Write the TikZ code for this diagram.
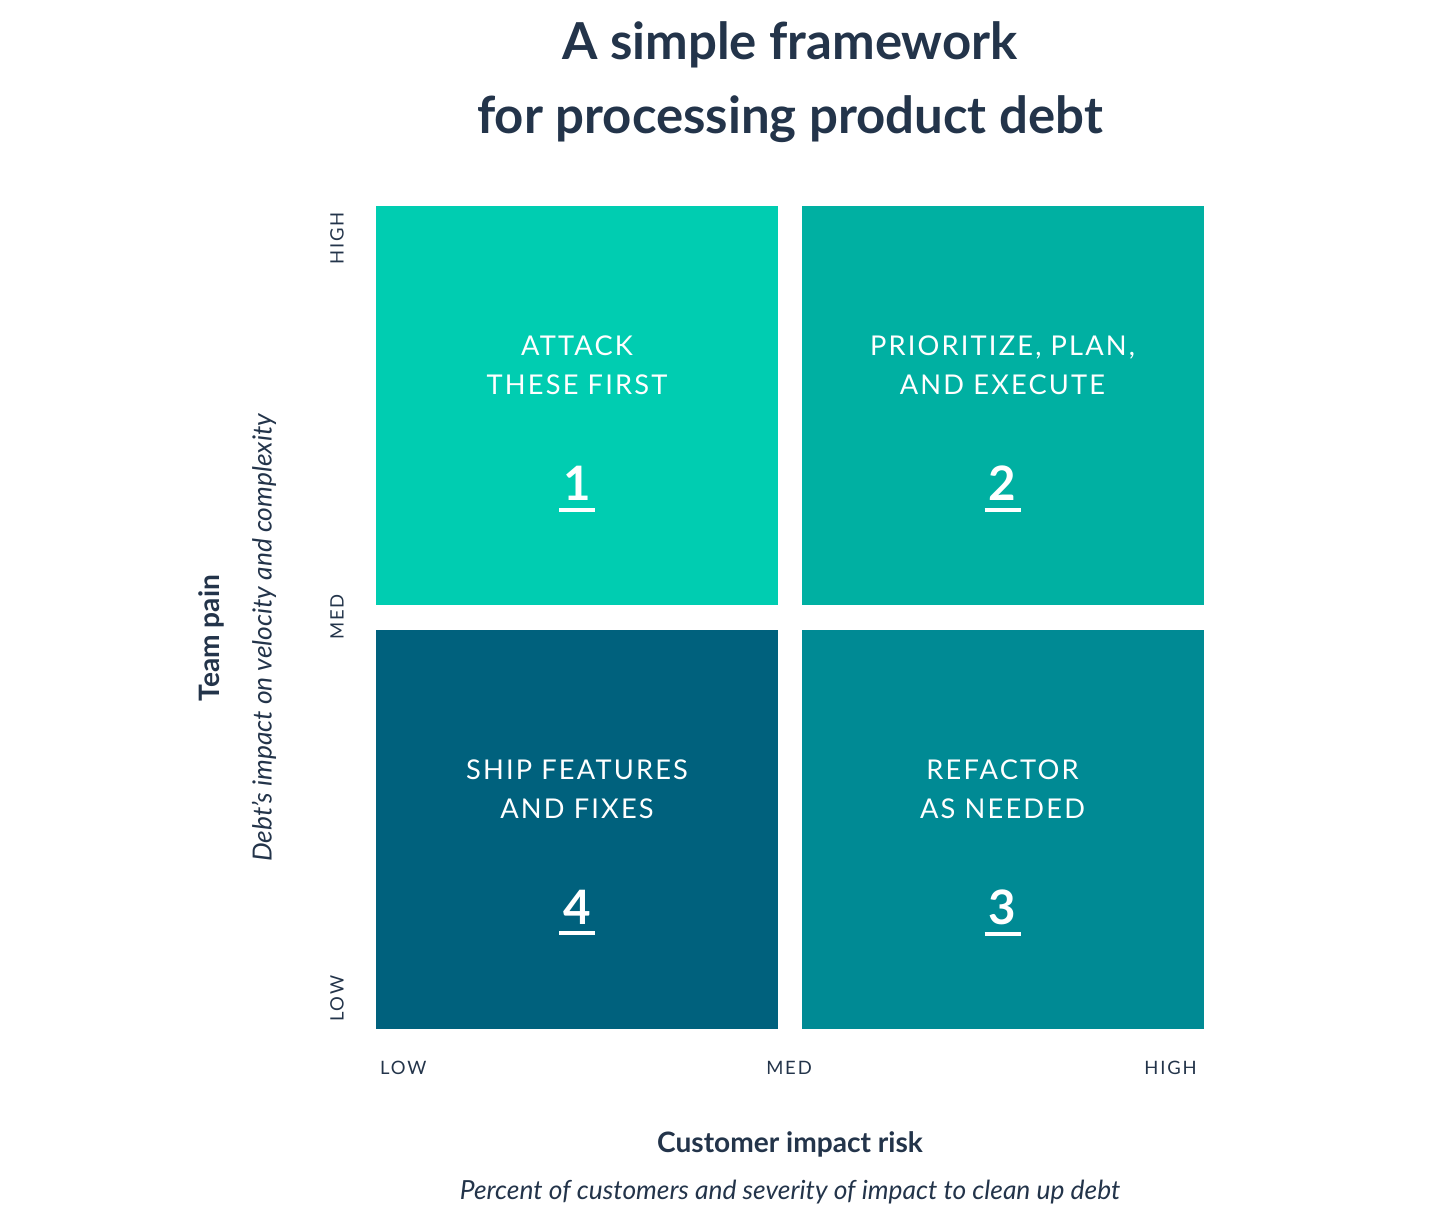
\documentclass[tikz,border=0pt]{standalone}
\usepackage{fontspec}
\setmainfont{Lato}
\usetikzlibrary{positioning}
\definecolor{quad_one}{HTML}{00CDB1}
\definecolor{quad_two}{HTML}{00B0A2}
\definecolor{quad_three}{HTML}{008A94}
\definecolor{quad_four}{HTML}{00617D}
\definecolor{ink}{HTML}{23344A}
\tikzset{
    quad/.style={rectangle, inner sep=0pt, minimum width=402\px, minimum height=399\px},
    num/.style={text=white, font=\fontsize{27}{30}\selectfont\bfseries},
    qlabel/.style={text=white, align=center, font=\fontsize{15.5}{22}\selectfont\addfontfeature{LetterSpace=8}},
    tick/.style={text=ink, font=\fontsize{10.5}{12}\selectfont\addfontfeature{LetterSpace=10}},
    axis/.style={text=ink, font=\fontsize{16}{18}\selectfont\bfseries},
    axissub/.style={text=ink, font=\fontsize{15}{18}\selectfont\itshape}
}
\newlength{\px}\setlength{\px}{0.02cm}
\begin{document}
\begin{tikzpicture}[x=0.02cm, y=-0.02cm]
        \useasboundingbox (0,0) rectangle (1440,1225);
        \node (Title) [text=ink, align=center, font=\fontsize{29}{42.5}\selectfont\bfseries] at (790, 82) {A simple framework\\for processing product debt};

        % Quadrants
        \node (Q_one) [quad, fill=quad_one] at (577, 405.5) {};
        \node (Q_two) [quad, fill=quad_two] at (1002.5, 405.5) {};
        \node (Q_four) [quad, fill=quad_four] at (577, 829) {};
        \node (Q_three) [quad, fill=quad_three] at (1002.5, 829) {};

        \foreach \q/\n/\txt in {Q_one/1/{ATTACK\\THESE FIRST}, Q_two/2/{PRIORITIZE, PLAN,\\AND EXECUTE}, Q_four/4/{SHIP FEATURES\\AND FIXES}, Q_three/3/{REFACTOR\\AS NEEDED}} {
            \node (\q_num) [num] at ([yshift=-78\px]\q.center) {\n};
            \draw[white, line width=4\px] ([xshift=-18\px, yshift=-3\px]\q_num.south) -- ([xshift=18\px, yshift=-3\px]\q_num.south);
            \node (\q_txt) [qlabel] at ([yshift=40\px]\q.center) {\txt};
        }

        % Ticks
        \node (X_low) [tick, anchor=west] at (374, 1068) {LOW};
        \node (X_med) [tick] at (789, 1068) {MED};
        \node (X_high) [tick, anchor=east] at (1203, 1068) {HIGH};
        \node (Y_high) [tick, rotate=90, anchor=east] at (337, 206) {HIGH};
        \node (Y_med) [tick, rotate=90] at (337, 617) {MED};
        \node (Y_low) [tick, rotate=90, anchor=west] at (337, 1028) {LOW};

        % Axis titles
        \node (X_title) [axis] at (790, 1144) {Customer impact risk};
        \node (X_sub) [axissub] at (790, 1192) {Percent of customers and severity of impact to clean up debt};
        \node (Y_title) [axis, rotate=90] at (211, 638) {Team pain};
        \node (Y_sub) [axissub, rotate=90] at (264, 638) {Debt’s impact on velocity and complexity};
    \end{tikzpicture}
\end{document}
